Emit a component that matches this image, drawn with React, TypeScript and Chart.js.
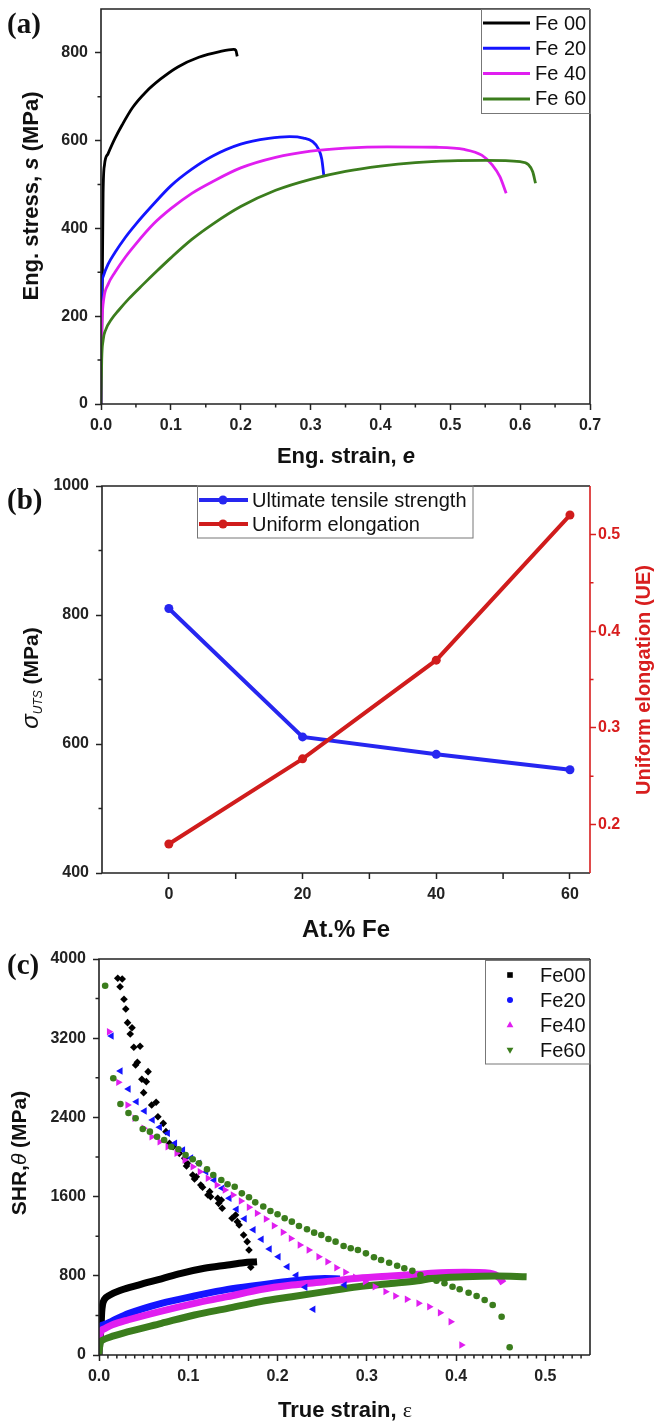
import React, { useEffect, useRef } from 'react';
import { Chart, registerables } from 'chart.js';
Chart.register(...registerables);

const FONT = "'Liberation Sans', Arial, Helvetica, sans-serif";
const SERIF = "'Liberation Serif', 'Times New Roman', serif";
const AX = '#222222';

// ---------------- Panel (a): engineering stress-strain ----------------
const aSeries = ['Fe 00', 'Fe 20', 'Fe 40', 'Fe 60'];
const aColors = ['#000000', '#1414ff', '#e01ef0', '#3b7d1d'];
const aFe00: [number, number][] = [[0, 0], [0.002, 300], [0.003, 480], [0.005, 545], [0.01, 570], [0.02, 605], [0.03, 635], [0.045, 675], [0.065, 712], [0.085, 740], [0.11, 768], [0.14, 790], [0.17, 803], [0.19, 808], [0.193, 806], [0.195, 792]];
const aFe20: [number, number][] = [[0, 0], [0.0005, 180], [0.001, 260], [0.003, 290], [0.01, 318], [0.02, 345], [0.035, 380], [0.05, 410], [0.075, 455], [0.1, 497], [0.13, 535], [0.16, 565], [0.2, 592], [0.24, 605], [0.27, 609], [0.29, 606], [0.303, 598], [0.311, 582], [0.316, 558], [0.319, 520]];
const aFe40: [number, number][] = [[0, 0], [0.0005, 120], [0.0015, 190], [0.004, 240], [0.01, 272], [0.02, 300], [0.035, 335], [0.05, 365], [0.075, 410], [0.1, 445], [0.13, 480], [0.16, 507], [0.2, 538], [0.25, 562], [0.3, 576], [0.35, 583], [0.41, 586], [0.48, 585], [0.52, 580], [0.545, 567], [0.56, 545], [0.571, 518], [0.58, 480]];
const aFe60: [number, number][] = [[0, 0], [0.001, 100], [0.003, 145], [0.007, 170], [0.015, 193], [0.025, 213], [0.04, 240], [0.06, 272], [0.08, 303], [0.1, 333], [0.13, 375], [0.16, 410], [0.2, 450], [0.25, 487], [0.3, 512], [0.35, 530], [0.4, 542], [0.45, 550], [0.5, 554], [0.55, 555], [0.6, 552], [0.612, 545], [0.618, 529], [0.622, 503]];
const aXTicks = [0, 0.1, 0.2, 0.3, 0.4, 0.5, 0.6, 0.7];
const aXMinor = [0.05, 0.15, 0.25, 0.35, 0.45, 0.55, 0.65];
const aYTicks = [0, 200, 400, 600, 800];
const aYMinor = [100, 300, 500, 700];

// ---------------- Panel (b): UTS and UE vs Fe content ----------------
const bFe = [0, 20, 40, 60];
const bUTS = [810, 611, 584, 560];
const bUE = [0.18, 0.268, 0.37, 0.52];
const bSeries = ['Ultimate tensile strength', 'Uniform elongation'];
const bColors = ['#2626f0', '#d01c1c'];
const bXTicks = [0, 20, 40, 60];
const bXMinor = [10, 30, 50];
const bYTicks = [400, 600, 800, 1000];
const bYMinor = [500, 700, 900];
const bY2Ticks = [0.2, 0.3, 0.4, 0.5];
const bY2Minor = [0.25, 0.35, 0.45];

// ---------------- Panel (c): true stress curves and strain hardening rate ----------------
const cSeries = ['Fe00', 'Fe20', 'Fe40', 'Fe60'];
const cColors = ['#000000', '#1414ff', '#e01ef0', '#3b7d1d'];
const cCurve00: [number, number][] = [[0, 0], [0.0012, 150], [0.0024, 300], [0.003, 430], [0.004, 510], [0.006, 560], [0.012, 605], [0.025, 657], [0.044, 707], [0.07, 770], [0.092, 825], [0.118, 876], [0.144, 909], [0.162, 932], [0.177, 942]];
const cCurve20: [number, number][] = [[0, 0], [0.0005, 200], [0.001, 275], [0.005, 305], [0.015, 345], [0.033, 418], [0.07, 522], [0.107, 596], [0.144, 663], [0.181, 707], [0.216, 747], [0.253, 772], [0.27, 768]];
const cCurve40: [number, number][] = [[0, 0], [0.0005, 120], [0.001, 185], [0.002, 235], [0.006, 265], [0.015, 305], [0.033, 356], [0.07, 444], [0.107, 522], [0.144, 589], [0.181, 662], [0.216, 707], [0.253, 740], [0.29, 775], [0.327, 798], [0.357, 815], [0.372, 825], [0.409, 835], [0.438, 825], [0.449, 775], [0.453, 724]];
const cCurve60: [number, number][] = [[0, 0], [0.0005, 60], [0.001, 110], [0.004, 150], [0.012, 180], [0.033, 236], [0.07, 320], [0.107, 404], [0.144, 471], [0.181, 539], [0.216, 589], [0.253, 640], [0.29, 690], [0.327, 722], [0.357, 750], [0.372, 772], [0.409, 791], [0.446, 798], [0.479, 791]];
const cShr00: [number, number][] = [[0.021, 3805], [0.026, 3798], [0.0236, 3720], [0.028, 3593], [0.03, 3495], [0.032, 3357], [0.037, 3306], [0.035, 3242], [0.039, 3108], [0.046, 3118], [0.041, 2929], [0.043, 2956], [0.055, 2862], [0.048, 2785], [0.053, 2761], [0.05, 2650], [0.059, 2525], [0.064, 2553], [0.066, 2407], [0.072, 2340], [0.075, 2256], [0.079, 2138], [0.083, 2104], [0.09, 2037], [0.096, 1987], [0.099, 1936], [0.098, 1909], [0.105, 1818], [0.109, 1801], [0.107, 1778], [0.114, 1717], [0.116, 1694], [0.124, 1650], [0.122, 1616], [0.125, 1599], [0.133, 1583], [0.137, 1566], [0.134, 1532], [0.138, 1482], [0.153, 1414], [0.149, 1381], [0.155, 1347], [0.157, 1313], [0.162, 1212], [0.166, 1145], [0.168, 1061], [0.17, 886]];
const cShr20: [number, number][] = [[0.014, 3222], [0.024, 2869], [0.033, 2687], [0.042, 2559], [0.051, 2465], [0.06, 2374], [0.068, 2300], [0.077, 2239], [0.085, 2138], [0.094, 2071], [0.103, 1990], [0.112, 1936], [0.12, 1850], [0.129, 1765], [0.138, 1684], [0.146, 1583], [0.154, 1472], [0.163, 1377], [0.173, 1266], [0.182, 1169], [0.191, 1071], [0.201, 993], [0.211, 892], [0.221, 805], [0.231, 684], [0.24, 462], [0.275, 707]];
const cShr40: [number, number][] = [[0.0113, 3266], [0.0217, 2754], [0.032, 2525], [0.04, 2391], [0.05, 2290], [0.059, 2205], [0.068, 2155], [0.077, 2104], [0.087, 2037], [0.096, 1970], [0.105, 1902], [0.113, 1852], [0.122, 1785], [0.132, 1717], [0.141, 1667], [0.15, 1616], [0.159, 1555], [0.168, 1492], [0.177, 1431], [0.187, 1374], [0.196, 1306], [0.206, 1239], [0.215, 1178], [0.225, 1111], [0.235, 1061], [0.246, 993], [0.256, 942], [0.266, 882], [0.276, 835], [0.287, 785], [0.298, 740], [0.309, 690], [0.321, 640], [0.332, 596], [0.345, 563], [0.358, 522], [0.37, 488], [0.382, 427], [0.394, 336], [0.406, 101]];
const cShr60: [number, number][] = [[0.0069, 3730], [0.016, 2795], [0.024, 2535], [0.033, 2445], [0.041, 2391], [0.049, 2283], [0.057, 2256], [0.065, 2205], [0.073, 2172], [0.081, 2104], [0.089, 2078], [0.097, 2020], [0.105, 1977], [0.112, 1936], [0.121, 1876], [0.128, 1818], [0.137, 1768], [0.144, 1724], [0.152, 1700], [0.16, 1633], [0.168, 1593], [0.175, 1542], [0.184, 1500], [0.192, 1455], [0.2, 1421], [0.208, 1381], [0.216, 1347], [0.224, 1303], [0.233, 1270], [0.241, 1236], [0.249, 1212], [0.257, 1172], [0.265, 1145], [0.274, 1101], [0.282, 1078], [0.29, 1061], [0.299, 1027], [0.308, 987], [0.316, 960], [0.325, 932], [0.334, 902], [0.342, 876], [0.351, 850], [0.36, 808], [0.369, 775], [0.378, 750], [0.387, 724], [0.396, 690], [0.404, 664], [0.414, 629], [0.423, 596], [0.432, 556], [0.441, 505], [0.451, 387], [0.46, 78]];
const cXTicks = [0, 0.1, 0.2, 0.3, 0.4, 0.5];
const cXMinor = [0.01, 0.02, 0.03, 0.04, 0.05, 0.06, 0.07, 0.08, 0.09, 0.11, 0.12, 0.13, 0.14, 0.15, 0.16, 0.17, 0.18, 0.19, 0.21, 0.22, 0.23, 0.24, 0.25, 0.26, 0.27, 0.28, 0.29, 0.31, 0.32, 0.33, 0.34, 0.35, 0.36, 0.37, 0.38, 0.39, 0.41, 0.42, 0.43, 0.44, 0.45, 0.46, 0.47, 0.48, 0.49, 0.51, 0.52, 0.53, 0.54];
const cYTicks = [0, 800, 1600, 2400, 3200, 4000];
const cYMinor = [400, 1200, 2000, 2800, 3600];

// ---------------- helpers ----------------
const xy = (arr: [number, number][]) => arr.map(([x, y]) => ({ x, y }));

function axis(o: any) {
  const horizontal = o.pos === 'bottom';
  return {
    type: 'linear',
    position: o.pos,
    min: o.min,
    max: o.max,
    grid: { display: true, drawOnChartArea: false, drawTicks: true, tickLength: o.tl ?? 6, tickWidth: 1.5, tickColor: o.color || AX },
    border: { display: false },
    ticks: {
      autoSkip: false,
      maxRotation: 0,
      padding: o.pad ?? (horizontal ? 6 : 7),
      color: o.color || AX,
      font: { family: FONT, size: 16, weight: 'bold' },
      callback: (v: number) => o.fmt(v),
    },
    afterBuildTicks: (s: any) => {
      s.ticks = o.ticks.map((v: number) => ({ value: v }));
    },
    afterFit: (s: any) => {
      if (horizontal) s.height = o.fixed;
      else s.width = o.fixed;
      s.paddingTop = 0;
      s.paddingBottom = 0;
      s.paddingLeft = 0;
      s.paddingRight = 0;
    },
  };
}

function minorTicks(ctx: any, scale: any, values: number[], side: string, edge: number, len: number, color: string) {
  ctx.strokeStyle = color;
  ctx.lineWidth = 1.5;
  ctx.beginPath();
  for (const v of values) {
    const p = scale.getPixelForValue(v);
    if (side === 'bottom') {
      ctx.moveTo(p, edge);
      ctx.lineTo(p, edge + len);
    } else if (side === 'left') {
      ctx.moveTo(edge, p);
      ctx.lineTo(edge - len, p);
    } else {
      ctx.moveTo(edge, p);
      ctx.lineTo(edge + len, p);
    }
  }
  ctx.stroke();
}

type Part = { t: string; f: string; c?: string; dy?: number };
function rich(ctx: any, parts: Part[], cx: number, cy: number, vertical: boolean, base: number, color: string) {
  ctx.save();
  ctx.translate(cx, cy);
  if (vertical) ctx.rotate(-Math.PI / 2);
  ctx.textAlign = 'left';
  ctx.textBaseline = 'alphabetic';
  const ws = parts.map((p) => {
    ctx.font = p.f;
    return ctx.measureText(p.t).width;
  });
  let x = -ws.reduce((a, b) => a + b, 0) / 2;
  parts.forEach((p, i) => {
    ctx.font = p.f;
    ctx.fillStyle = p.c || color;
    ctx.fillText(p.t, x, base + (p.dy || 0));
    x += ws[i];
  });
  ctx.restore();
}

function frame(ctx: any, ca: any, rightColor: string) {
  ctx.lineWidth = 1.6;
  ctx.strokeStyle = AX;
  ctx.beginPath();
  ctx.moveTo(ca.right, ca.top);
  ctx.lineTo(ca.left, ca.top);
  ctx.lineTo(ca.left, ca.bottom);
  ctx.lineTo(ca.right, ca.bottom);
  ctx.stroke();
  ctx.strokeStyle = rightColor;
  ctx.beginPath();
  ctx.moveTo(ca.right, ca.top);
  ctx.lineTo(ca.right, ca.bottom);
  ctx.stroke();
}

function panelLabel(ctx: any, text: string, x: number, y: number) {
  ctx.font = `bold 29px ${SERIF}`;
  ctx.fillStyle = '#111';
  ctx.textAlign = 'left';
  ctx.textBaseline = 'alphabetic';
  ctx.fillText(text, x, y);
}

const baseOptions = (padding: any) => ({
  responsive: false,
  animation: false,
  devicePixelRatio: 1,
  events: [],
  layout: { padding },
  plugins: { legend: { display: false }, tooltip: { enabled: false } },
});

// ---------------- chart configs ----------------
function configA(): any {
  const sets = [aFe00, aFe20, aFe40, aFe60].map((d, i) => ({
    label: aSeries[i],
    data: xy(d),
    borderColor: aColors[i],
    backgroundColor: aColors[i],
    borderWidth: 2.8,
    pointRadius: 0,
    showLine: true,
    cubicInterpolationMode: 'monotone',
    order: 4 - i,
  }));
  return {
    type: 'scatter',
    data: { datasets: sets },
    options: {
      ...baseOptions({ left: 0, top: 9, right: 64, bottom: 0 }),
      scales: {
        x: axis({ pos: 'bottom', min: 0, max: 0.7, ticks: aXTicks, fmt: (v: number) => v.toFixed(1), fixed: 66 }),
        y: axis({ pos: 'left', min: 0, max: 900, ticks: aYTicks, fmt: (v: number) => String(v), fixed: 101 }),
      },
    },
    plugins: [
      {
        id: 'decorA',
        afterDraw(chart: any) {
          const ctx = chart.ctx;
          const ca = chart.chartArea;
          ctx.save();
          frame(ctx, ca, AX);
          minorTicks(ctx, chart.scales.x, aXMinor, 'bottom', ca.bottom, 3.5, AX);
          minorTicks(ctx, chart.scales.y, aYMinor, 'left', ca.left, 3.5, AX);
          ctx.lineWidth = 1;
          ctx.strokeStyle = '#777';
          ctx.strokeRect(481.5, 9.5, 109, 104);
          aSeries.forEach((name, i) => {
            const y = 23 + i * 25.3;
            ctx.strokeStyle = aColors[i];
            ctx.lineWidth = 3;
            ctx.beginPath();
            ctx.moveTo(483, y);
            ctx.lineTo(530, y);
            ctx.stroke();
            ctx.fillStyle = '#111';
            ctx.font = `20px ${FONT}`;
            ctx.textAlign = 'left';
            ctx.textBaseline = 'middle';
            ctx.fillText(name, 535, y + 1);
          });
          const B = `bold 22px ${FONT}`;
          rich(ctx, [{ t: 'Eng. stress, ', f: B }, { t: 's', f: `italic bold 22px ${FONT}` }, { t: ' (MPa)', f: B }], 31.5, 196, true, 6, '#111');
          rich(ctx, [{ t: 'Eng. strain, ', f: B }, { t: 'e', f: `italic bold 22px ${FONT}` }], 346, 463, false, 0, '#111');
          panelLabel(ctx, '(a)', 7, 33);
          ctx.restore();
        },
      },
    ],
  };
}

function configB(): any {
  return {
    type: 'scatter',
    data: {
      datasets: [
        {
          label: bSeries[0],
          data: bFe.map((x, i) => ({ x, y: bUTS[i] })),
          yAxisID: 'y',
          borderColor: bColors[0],
          backgroundColor: bColors[0],
          borderWidth: 4,
          pointRadius: 4.5,
          pointBorderWidth: 0,
          showLine: true,
          order: 2,
        },
        {
          label: bSeries[1],
          data: bFe.map((x, i) => ({ x, y: bUE[i] })),
          yAxisID: 'y1',
          borderColor: bColors[1],
          backgroundColor: bColors[1],
          borderWidth: 4,
          pointRadius: 4.5,
          pointBorderWidth: 0,
          showLine: true,
          order: 1,
        },
      ],
    },
    options: {
      ...baseOptions({ left: 0, top: 16, right: 0, bottom: 0 }),
      scales: {
        x: axis({ pos: 'bottom', min: -10, max: 63, ticks: bXTicks, fmt: (v: number) => String(v), fixed: 77 }),
        y: axis({ pos: 'left', min: 400, max: 1000, ticks: bYTicks, fmt: (v: number) => String(v), fixed: 102 }),
        y1: axis({ pos: 'right', min: 0.15, max: 0.55, ticks: bY2Ticks, fmt: (v: number) => v.toFixed(1), fixed: 64, color: '#d81e1e', pad: 2 }),
      },
    },
    plugins: [
      {
        id: 'decorB',
        afterDraw(chart: any) {
          const ctx = chart.ctx;
          const ca = chart.chartArea;
          ctx.save();
          frame(ctx, ca, '#d81e1e');
          minorTicks(ctx, chart.scales.x, bXMinor, 'bottom', ca.bottom, 6, AX);
          minorTicks(ctx, chart.scales.y, bYMinor, 'left', ca.left, 3.5, AX);
          minorTicks(ctx, chart.scales.y1, bY2Minor, 'right', ca.right, 3.5, '#d81e1e');
          ctx.lineWidth = 1;
          ctx.strokeStyle = '#777';
          ctx.strokeRect(197.5, 15.5, 275.5, 52.5);
          bSeries.forEach((name, i) => {
            const y = 30 + i * 24;
            ctx.strokeStyle = bColors[i];
            ctx.fillStyle = bColors[i];
            ctx.lineWidth = 4;
            ctx.beginPath();
            ctx.moveTo(199, y);
            ctx.lineTo(248, y);
            ctx.stroke();
            ctx.beginPath();
            ctx.arc(223, y, 4.5, 0, Math.PI * 2);
            ctx.fill();
            ctx.fillStyle = '#111';
            ctx.font = `20px ${FONT}`;
            ctx.textAlign = 'left';
            ctx.textBaseline = 'middle';
            ctx.fillText(name, 252, y + 1);
          });
          rich(
            ctx,
            [
              { t: 'σ', f: `italic 24px ${FONT}` },
              { t: 'UTS', f: `italic 12px ${FONT}`, dy: 4 },
              { t: ' (MPa)', f: `bold 21px ${FONT}` },
            ],
            31.5,
            208,
            true,
            6,
            '#111'
          );
          rich(ctx, [{ t: 'Uniform elongation (UE)', f: `bold 20px ${FONT}` }], 643.5, 210, true, 6, '#d81e1e');
          rich(ctx, [{ t: 'At.% Fe', f: `bold 24px ${FONT}` }], 346, 467, false, 0, '#111');
          panelLabel(ctx, '(b)', 7, 39);
          ctx.restore();
        },
      },
    ],
  };
}

function configC(): any {
  const curves = [cCurve00, cCurve20, cCurve40, cCurve60].map((d, i) => ({
    label: cSeries[i] + ' true stress',
    data: xy(d),
    borderColor: cColors[i],
    backgroundColor: cColors[i],
    borderWidth: 7,
    pointRadius: 0,
    showLine: true,
    cubicInterpolationMode: 'monotone',
    order: 10 - i,
  }));
  const styles = [
    { s: 'rectRot', r: 3.8, rot: 0 },
    { s: 'triangle', r: 4.3, rot: -90 },
    { s: 'triangle', r: 4.3, rot: 90 },
    { s: 'circle', r: 3.3, rot: 0 },
  ];
  const shr = [cShr00, cShr20, cShr40, cShr60].map((d, i) => ({
    label: cSeries[i],
    data: xy(d),
    borderColor: cColors[i],
    backgroundColor: cColors[i],
    pointStyle: styles[i].s,
    pointRadius: styles[i].r,
    pointRotation: styles[i].rot,
    pointBorderWidth: 0,
    showLine: false,
    order: 5 - i,
  }));
  return {
    type: 'scatter',
    data: { datasets: [...curves, ...shr] },
    options: {
      ...baseOptions({ left: 0, top: 9, right: 64, bottom: 0 }),
      scales: {
        x: axis({ pos: 'bottom', min: 0, max: 0.55, ticks: cXTicks, fmt: (v: number) => v.toFixed(1), fixed: 68 }),
        y: axis({ pos: 'left', min: 0, max: 4000, ticks: cYTicks, fmt: (v: number) => String(v), fixed: 99 }),
      },
    },
    plugins: [
      {
        id: 'decorC',
        afterDraw(chart: any) {
          const ctx = chart.ctx;
          const ca = chart.chartArea;
          ctx.save();
          frame(ctx, ca, AX);
          minorTicks(ctx, chart.scales.x, cXMinor, 'bottom', ca.bottom, 3.5, AX);
          minorTicks(ctx, chart.scales.y, cYMinor, 'left', ca.left, 3.5, AX);
          ctx.lineWidth = 1;
          ctx.strokeStyle = '#777';
          ctx.strokeRect(485.5, 10.5, 104.5, 103.5);
          cSeries.forEach((name, i) => {
            const y = 25 + i * 25;
            const mx = 510;
            ctx.fillStyle = cColors[i];
            ctx.beginPath();
            if (i === 0) ctx.rect(mx - 2.8, y - 2.8, 5.6, 5.6);
            else if (i === 1) ctx.arc(mx, y, 3, 0, Math.PI * 2);
            else if (i === 2) {
              ctx.moveTo(mx, y - 3.8);
              ctx.lineTo(mx + 3.4, y + 2.2);
              ctx.lineTo(mx - 3.4, y + 2.2);
              ctx.closePath();
            } else {
              ctx.moveTo(mx, y + 3.8);
              ctx.lineTo(mx + 3.4, y - 2.2);
              ctx.lineTo(mx - 3.4, y - 2.2);
              ctx.closePath();
            }
            ctx.fill();
            ctx.fillStyle = '#111';
            ctx.font = `20px ${FONT}`;
            ctx.textAlign = 'left';
            ctx.textBaseline = 'middle';
            ctx.fillText(name, 540, y + 1);
          });
          const B = `bold 21px ${FONT}`;
          rich(ctx, [{ t: 'SHR,', f: B }, { t: 'θ', f: `italic 21px ${FONT}` }, { t: ' (MPa)', f: B }], 20, 203, true, 6, '#111');
          rich(ctx, [{ t: 'True strain, ', f: `bold 22px ${FONT}` }, { t: 'ε', f: `22px ${SERIF}` }], 345, 467, false, 0, '#111');
          panelLabel(ctx, '(c)', 7, 24);
          ctx.restore();
        },
      },
    ],
  };
}

function Panel({ top, height, build }: { top: number; height: number; build: () => any }) {
  const ref = useRef<HTMLCanvasElement>(null);
  useEffect(() => {
    const chart = new Chart(ref.current as HTMLCanvasElement, build());
    return () => chart.destroy();
  }, []);
  return (
    <canvas
      ref={ref}
      width={654}
      height={height}
      style={{ position: 'absolute', left: 0, top, width: 654, height, display: 'block' }}
    />
  );
}

export default function App() {
  return (
    <div style={{ position: 'absolute', left: 0, top: 0, width: 654, height: 1423, background: '#ffffff', overflow: 'hidden' }}>
      <Panel top={0} height={470} build={configA} />
      <Panel top={470} height={480} build={configB} />
      <Panel top={950} height={473} build={configC} />
    </div>
  );
}
